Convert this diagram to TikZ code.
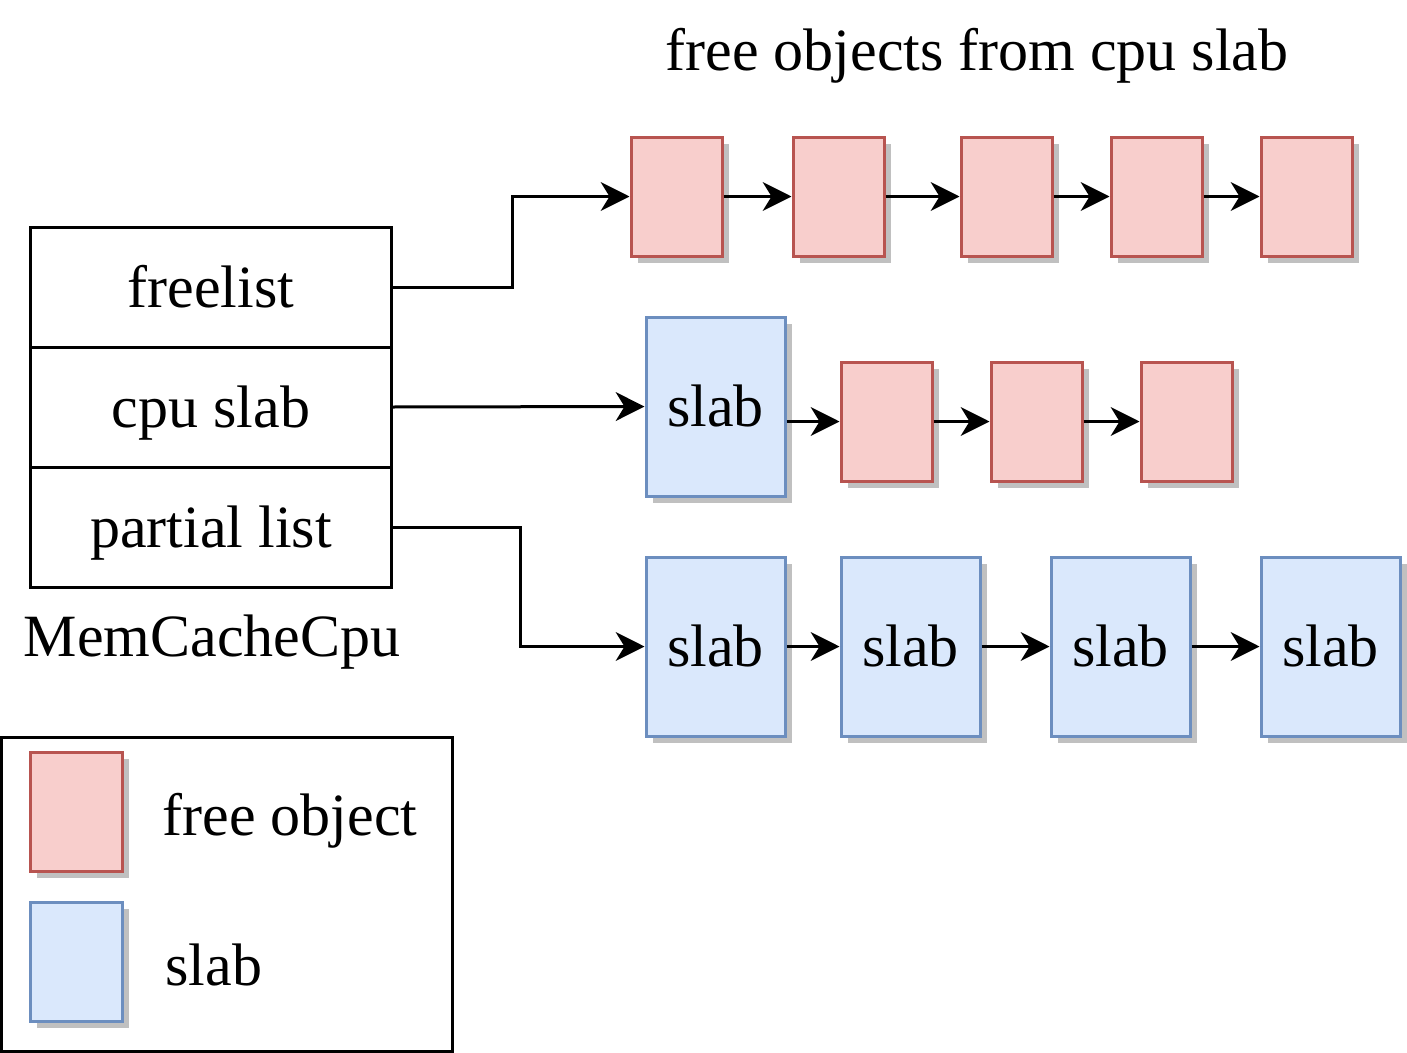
\documentclass[tikz,border=0pt]{standalone}
\usepackage{fontspec}
\setmainfont{Liberation Serif}
\usetikzlibrary{arrows.meta,shadows}
\definecolor{redfill}{HTML}{F8CECC}
\definecolor{redline}{HTML}{B85450}
\definecolor{bluefill}{HTML}{DAE8FC}
\definecolor{blueline}{HTML}{6C8EBF}
\definecolor{shadowgray}{HTML}{C0C0C0}
\tikzset{
  txt/.style={font=\fontsize{24}{28}\selectfont, text height=21.4pt, text depth=5.2pt},
  box/.style={draw, line width=1.2pt, inner sep=0pt, txt,
    drop shadow={shadow xshift=2.6pt, shadow yshift=-2.6pt, fill=shadowgray, opacity=1}},
  freeobj/.style={box, fill=redfill, draw=redline, minimum width=36.4pt, minimum height=47.6pt},
  slabbox/.style={box, fill=bluefill, draw=blueline, minimum width=55.6pt, minimum height=71.6pt},
  field/.style={draw, line width=1.2pt, inner sep=0pt, minimum width=144pt, minimum height=48pt, txt},
  lbl/.style={inner sep=0pt, txt},
  arr/.style={line width=1.2pt, -{Stealth[length=11.5pt, width=11.5pt, inset=3.5pt]}}
}
\begin{document}
\begin{tikzpicture}[x=0.4pt, y=-0.4pt]
\useasboundingbox (0,0) rectangle (1407,1053);
% title
\node[lbl] (title) at (977,50) {free objects from cpu slab};
% MemCacheCpu
\node[field] (mc1) at (211,287) {freelist};
\node[field] (mc2) at (211,407) {cpu slab};
\node[field] (mc3) at (211,527) {partial list};
\node[lbl] (mclbl) at (212,636) {MemCacheCpu};
% top row
\node[freeobj] (r1) at (676.5,196.5) {};
\node[freeobj] (r2) at (838.5,196.5) {};
\node[freeobj] (r3) at (1006.5,196.5) {};
\node[freeobj] (r4) at (1156.5,196.5) {};
\node[freeobj] (r5) at (1306.5,196.5) {};
% middle row
\node[slabbox] (ms) at (715.5,406.5) {slab};
\node[freeobj] (m1) at (886.5,421.5) {};
\node[freeobj] (m2) at (1036.5,421.5) {};
\node[freeobj] (m3) at (1186.5,421.5) {};
% bottom row
\node[slabbox] (s1) at (715.5,646.5) {slab};
\node[slabbox] (s2) at (910.5,646.5) {slab};
\node[slabbox] (s3) at (1120.5,646.5) {slab};
\node[slabbox] (s4) at (1330.5,646.5) {slab};
% arrows
\draw[arr] (mc1.east) -- ++(120,0) |- (r1.west);
\draw[arr] (mc2.east) -- (ms.west);
\draw[arr] (mc3.east) -- ++(128,0) |- (s1.west);
\draw[arr] (r1) -- (r2);
\draw[arr] (r2) -- (r3);
\draw[arr] (r3) -- (r4);
\draw[arr] (r4) -- (r5);
\draw[arr] (ms.east |- m1) -- (m1.west);
\draw[arr] (m1) -- (m2);
\draw[arr] (m2) -- (m3);
\draw[arr] (s1) -- (s2);
\draw[arr] (s2) -- (s3);
\draw[arr] (s3) -- (s4);
% legend
\node[draw, line width=1.2pt, minimum width=180pt, minimum height=125.6pt, inner sep=0pt] (legend) at (227,894) {};
\node[freeobj] (lr) at (76.5,811.5) {};
\node[slabbox, minimum width=36.4pt, minimum height=47.6pt] (lb) at (76.5,961.5) {};
\node[lbl, anchor=west] (lrt) at (162,815) {free object};
\node[lbl, anchor=west] (lbt) at (165,965) {slab};
\end{tikzpicture}
\end{document}
